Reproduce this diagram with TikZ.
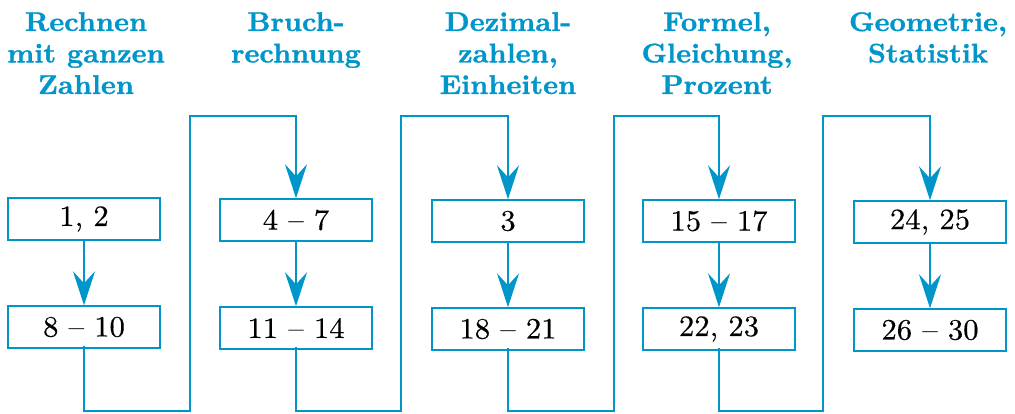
\documentclass[tikz,border=0pt]{standalone}
\usepackage{fontspec}
\usetikzlibrary{arrows.meta}
\newfontfamily\headfont{lmroman10-bold.otf}[FakeStretch=1.05, FakeBold=1.2, Ligatures=TeX]
\newfontfamily\numfont{lmroman10-regular.otf}[FakeStretch=1.04, FakeBold=0.4, Ligatures=TeX]
\definecolor{cyanblue}{RGB}{0,150,202}
\tikzset{
  numbox/.style={draw=cyanblue, line width=1.4pt, fill=white, minimum width=152pt,
    minimum height=42pt, inner sep=0pt, font=\numfont\fontsize{29.5}{31}\selectfont, text=black},
  heading/.style={align=center, anchor=north, inner sep=0pt, text=cyanblue,
    font=\headfont\fontsize{27}{31.5}\selectfont},
  flow/.style={draw=cyanblue, line width=2.7pt, line join=miter,
    -{Stealth[length=34pt, width=22pt, inset=12pt]}}
}
\begin{document}
\begin{tikzpicture}[x=1pt, y=-1pt]
\useasboundingbox (0,0) rectangle (1015,414);

% topic headings
\node[heading] (h1) at (86,12)  {Rechnen\\mit ganzen\\Zahlen};
\node[heading] (h2) at (296,12) {Bruch-\\rechnung};
\node[heading] (h3) at (508,12) {Dezimal-\\zahlen,\\Einheiten};
\node[heading] (h4) at (717,12) {Formel,\\Gleichung,\\Prozent};
\node[heading] (h5) at (928,12) {Geometrie,\\Statistik};

% exercise ranges
\node[numbox] (t1) at (84,219)  {1, 2};
\node[numbox] (b1) at (84,327)  {8 -- 10};
\node[numbox] (t2) at (296,220) {4 -- 7};
\node[numbox] (b2) at (296,328) {11 -- 14};
\node[numbox] (t3) at (508,221) {3};
\node[numbox] (b3) at (508,329) {18 -- 21};
\node[numbox] (t4) at (719,221) {15 -- 17};
\node[numbox] (b4) at (719,329) {22, 23};
\node[numbox] (t5) at (930,222) {24, 25};
\node[numbox] (b5) at (930,330) {26 -- 30};

% bends of the path between columns
\coordinate (d1) at (190,411); \coordinate (u1) at (190,116);
\coordinate (d2) at (401,411); \coordinate (u2) at (401,116);
\coordinate (d3) at (614,411); \coordinate (u3) at (614,116);
\coordinate (d4) at (823,411); \coordinate (u4) at (823,116);

% arrows inside each column
\foreach \i in {1,...,5}
  \draw[flow] (t\i.south) -- (b\i.north);

% path leading from one column to the next
\draw[flow] ([yshift=3pt]b1.south) |- (d1) -- (u1) -| (t2.north);
\draw[flow] ([yshift=3pt]b2.south) |- (d2) -- (u2) -| (t3.north);
\draw[flow] ([yshift=3pt]b3.south) |- (d3) -- (u3) -| (t4.north);
\draw[flow] ([yshift=3pt]b4.south) |- (d4) -- (u4) -| (t5.north);
\end{tikzpicture}
\end{document}
